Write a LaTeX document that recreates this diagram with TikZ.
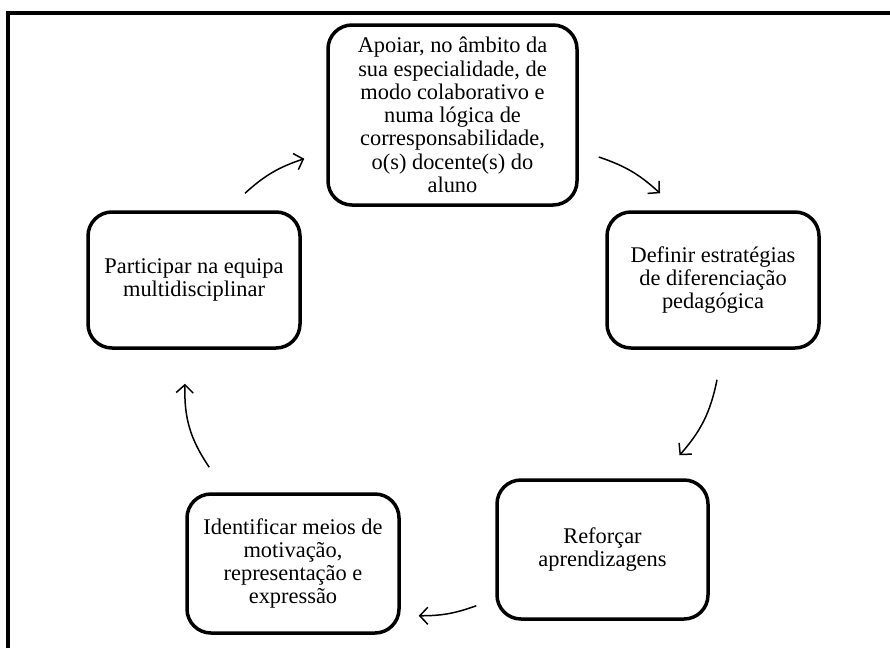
\documentclass[tikz,border=0pt]{standalone}
\usepackage{fontspec}
\setmainfont{Liberation Serif}
\usetikzlibrary{arrows.meta}

\begin{document}
\begin{tikzpicture}[x=1pt, y=1pt,
                box/.style={draw, line width=3.5pt, rounded corners=24pt, align=center,
                    font=\fontsize{22.4}{23.3}\selectfont, inner sep=0pt},
                arr/.style={line width=1.5pt, -{Straight Barb[length=8pt, width=17pt, line width=1.5pt]}}]
                \useasboundingbox (0,0) rectangle (890,-648);
                \draw [line width=4pt] (8,-648) -- (8,-13) -- (892,-13);
                \node [box, minimum width=249, minimum height=180] (apoiar) at (452.5,-115)
                    {Apoiar, no âmbito da\\ sua especialidade, de\\ modo colaborativo e\\ numa lógica de\\ corresponsabilidade,\\ o(s) docente(s) do\\ aluno};
                \node [box, minimum width=212, minimum height=136] (definir) at (713,-280)
                    {Definir estratégias\\ de diferenciação\\ pedagógica};
                \node [box, minimum width=211, minimum height=139] (reforcar) at (602.5,-549.5)
                    {Reforçar\\ aprendizagens};
                \node [box, minimum width=212, minimum height=139] (identificar) at (293,-563.5)
                    {Identificar meios de\\ motivação,\\ representação e\\ expressão};
                \node [box, minimum width=212, minimum height=136] (participar) at (194,-280)
                    {Participar na equipa\\ multidisciplinar};
                \draw [arr] ([shift={(51,17)}]participar.north) to[bend left=12] ([shift={(-22,48)}]apoiar.south west);
                \draw [arr] ([shift={(20,-42)}]apoiar.east) to[bend left=12] ([shift={(-53,17)}]definir.north);
                \draw [arr] ([shift={(4,-30)}]definir.south) to[bend left=15] ([shift={(77,23)}]reforcar.north);
                \draw [arr] ([shift={(-19,15)}]reforcar.south west) to[bend left=10] ([shift={(18,19)}]identificar.south east);
                \draw [arr] ([shift={(24,25)}]identificar.north west) to[bend left=18] ([shift={(-9,-34)}]participar.south);
            \end{tikzpicture}
\end{document}
